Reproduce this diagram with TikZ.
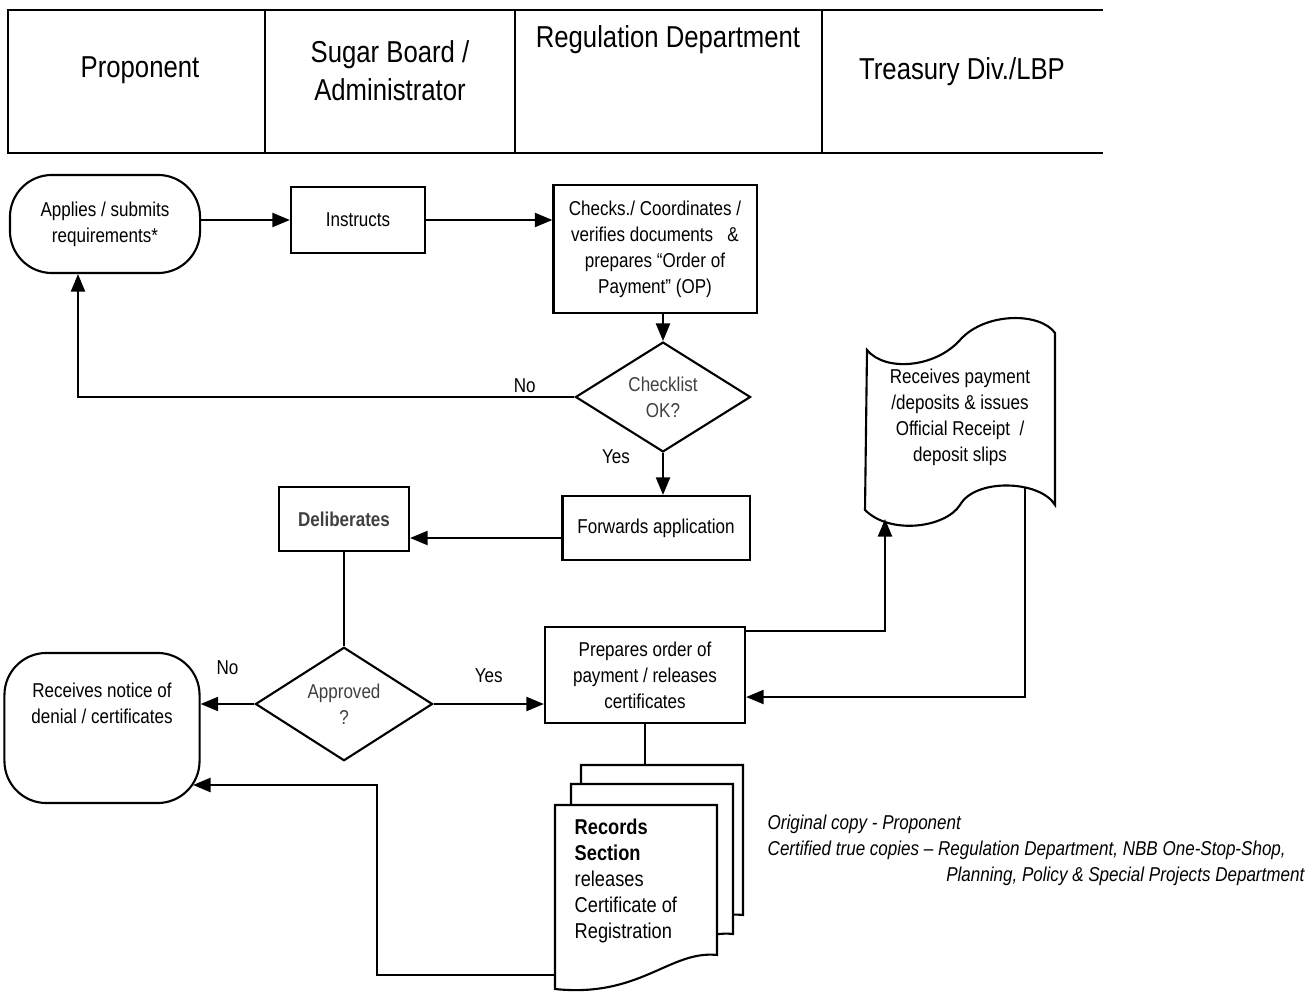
\documentclass[tikz,border=0pt]{standalone}
\usepackage{fontspec}
\setmainfont{Liberation Sans}[FakeStretch=0.85]
\usetikzlibrary{arrows.meta}
\usetikzlibrary{shapes.geometric}
\usetikzlibrary{calc}

\tikzset{
  flowbox/.style={draw, line width=0.6pt, align=center, inner sep=0pt,
    font=\fontsize{5.7}{7.4}\selectfont},
  termbox/.style={flowbox, rounded corners=0.42cm},
  decide/.style={draw, diamond, line width=0.6pt, align=center, inner sep=0pt,
    font=\fontsize{5.7}{7.4}\selectfont, text=black!75},
  flowarrow/.style={line width=0.6pt, -{Triangle[length=5pt,width=4pt]}},
  flowline/.style={line width=0.6pt},
  lanetext/.style={align=center, font=\fontsize{8.6}{10.8}\selectfont},
  flowlabel/.style={inner sep=0pt, font=\fontsize{5.7}{7.4}\selectfont},
  note/.style={inner sep=0pt, font=\fontsize{5.7}{7.4}\selectfont\itshape},
}

\begin{document}
\begin{tikzpicture}[x=0.01cm, y=-0.01cm]
        \useasboundingbox (0,0) rectangle (1310,992);

        % swim lane heads
        \draw[line width=0.5pt] (1103,10) -- (8,10) -- (8,153) -- (1103,153);
        \foreach \lx in {265,515,822}
            \draw[line width=0.5pt] (\lx,10) -- (\lx,153);
        \node[lanetext] (proponent) at (140,70) {Proponent};
        \node[lanetext] (sugarboard) at (390,71) {Sugar Board /\\Administrator};
        \node[lanetext] (regulation) at (668,40) {Regulation Department};
        \node[lanetext] (treasury) at (962,72) {Treasury Div./LBP};

        % application
        \node[termbox, minimum width=1.9cm, minimum height=0.98cm] (applies)
        at (105,224) {Applies / submits\\requirements*};
        \node[flowbox, minimum width=1.34cm, minimum height=0.66cm] (instructs)
        at (358,220) {Instructs};
        \node[flowbox, minimum width=2.03cm, minimum height=1.28cm] (checks)
        at (655,249) {Checks./ Coordinates /\\verifies documents \ \ \&\\prepares
        ``Order of\\Payment'' (OP)};

        \draw[flowarrow] (instructs.west -| applies.east) -- (instructs.west);
        \draw[flowarrow] (instructs.east) -- (instructs.east -| checks.west);

        % checklist
        \node[decide, minimum width=1.75cm, minimum height=1.07cm] (checklist)
        at (663,397) {Checklist\\OK?};
        \draw[flowarrow] (checks.south -| checklist.north) -- (checklist.north);

        \coordinate (retcorner) at (78,397);
        \draw[flowarrow] (checklist.west) -- node[flowlabel, above=1pt, pos=0.1]
        {No} (retcorner) -- (retcorner |- applies.south);

        \node[flowbox, minimum width=1.87cm, minimum height=0.64cm] (forwards)
        at (656,528) {Forwards application};
        \draw[flowarrow] (checklist.south) -- node[flowlabel, left=0.32cm,
        pos=0.1] {Yes} (checklist.south |- forwards.north);

        \node[flowbox, minimum width=1.3cm, minimum height=0.64cm, text=black!75,
        font=\fontsize{5.7}{7.4}\selectfont\bfseries] (deliberates) at (344,519)
        {Deliberates};
        \draw[flowarrow] ([yshift=-0.1cm]forwards.west) --
        ([yshift=-0.1cm]forwards.west -| deliberates.east);

        % approval
        \node[decide, minimum width=1.77cm, minimum height=0.92cm] (approved)
        at (344,704) {Approved\\?};
        \draw[flowline] (deliberates.south) -- (approved.north);

        \node[termbox, minimum width=1.95cm, minimum height=1.5cm] (receives)
        at (102,728) {};
        \node[flowlabel, align=center] (receivestext) at (102,703)
        {Receives notice of\\denial / certificates};
        \draw[flowarrow] (approved.west) -- node[flowlabel, above=0.28cm] {No}
        (approved.west -| receives.east);

        \node[flowbox, minimum width=2cm, minimum height=0.96cm] (prepares)
        at (645,675) {Prepares order of\\payment / releases\\certificates};
        \draw[flowarrow] (approved.east) -- node[flowlabel, above=0.2cm] {Yes}
        (approved.east -| prepares.west);

        % treasury tape
        \draw[flowline, fill=white] (867,350) .. controls (885,372) and (935,368)
        .. (960,340) .. controls (985,312) and (1040,312) .. (1055,333) --
        (1055,505) .. controls (1040,480) and (975,478) .. (960,505) .. controls
        (945,528) and (890,535) .. (865,510) -- cycle;
        \node[flowlabel, align=center] (payment) at (960,417) {Receives
        payment\\/deposits \& issues\\Official Receipt \ /\\deposit slips};
        \coordinate (tapein) at (885,519);
        \coordinate (tapeout) at (1025,488);
        \draw[flowarrow] ([yshift=-0.05cm]prepares.north east) -| (tapein);
        \draw[flowarrow] (tapeout) |- ([yshift=-0.22cm]prepares.east);

        % records, three copies
        \foreach \dx/\dy in {26/-40, 16/-21, 0/0}
            \draw[flowline, fill=white, shift={(\dx,\dy)}] (555,805) -- (717,805)
            -- (717,955) .. controls (670,950) and (640,998) .. (555,989) -- cycle;
        \node[anchor=west, align=left, inner sep=0pt,
        font=\fontsize{6.1}{7.4}\selectfont] (records) at (574,881)
        {\textbf{Records}\\\textbf{Section}\\releases\\Certificate of\\Registration};

        \coordinate (rectop) at (645,765);
        \draw[flowline] (prepares.south) -- (rectop);
        \coordinate (recleft) at (555,975);
        \coordinate (recturn) at (377,975);
        \coordinate (recvin) at (193,785);
        \draw[flowarrow] (recleft) -- (recturn) |- (recvin);

        % copies
        \node[note, anchor=west] (noteorig) at (767,824)
        {Original copy - Proponent};
        \node[note, anchor=west] (notecert) at (767,850) {Certified true copies
        -- Regulation Department, NBB One-Stop-Shop,};
        \node[note, anchor=east] (noteplan) at (1305,876)
        {Planning, Policy \& Special Projects Department};
\end{tikzpicture}
\end{document}
